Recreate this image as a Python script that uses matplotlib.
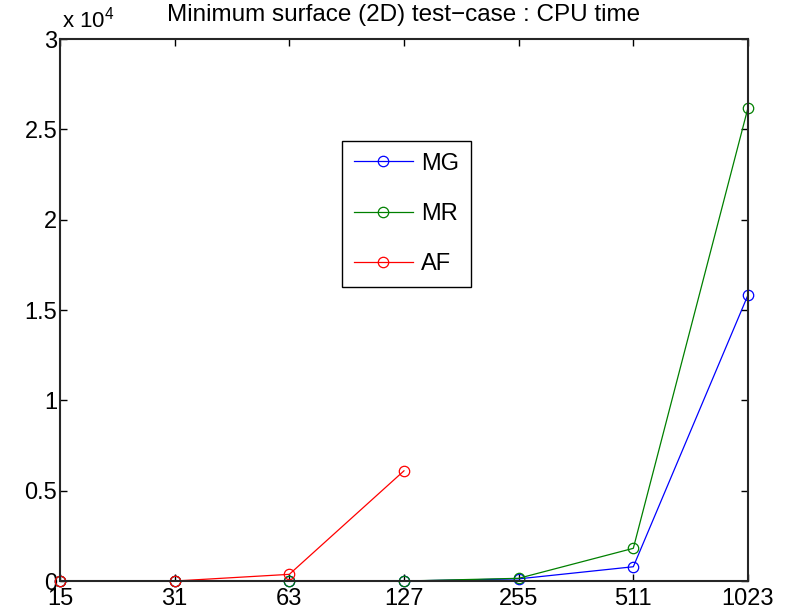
import matplotlib
matplotlib.use('Agg')
import matplotlib.pyplot as plt
from matplotlib.ticker import FuncFormatter

plt.rcParams['font.family'] = ['Liberation Sans', 'DejaVu Sans']
plt.rcParams['mathtext.default'] = 'regular'

# grid sizes (equally spaced categories)
tailles = ['15', '31', '63', '127', '255', '511', '1023']

# CPU time per method
temps_mg = [0, 0, 0, 0, 120, 790, 15830]
temps_mr = [0, 0, 0, 0, 150, 1810, 26190]
temps_af = [0, 0, 370, 6100]

yticks = [0, 5000, 10000, 15000, 20000, 25000, 30000]

fig = plt.figure(figsize=(7.9, 6.1), dpi=100)
ax = fig.add_axes([0.0759, 0.0475, 0.8709, 0.8885])

pos = list(range(1, len(tailles) + 1))
ax.plot(pos, temps_mg, color=(0, 0, 1), marker='o', mfc='none', ms=7.5, lw=0.9,
        mew=0.9, label='MG', clip_on=False)
ax.plot(pos, temps_mr, color=(0, 0.5, 0), marker='o', mfc='none', ms=7.5, lw=0.9,
        mew=0.9, label='MR', clip_on=False)
ax.plot(pos[:len(temps_af)], temps_af, color=(1, 0, 0), marker='o', mfc='none',
        ms=7.5, lw=0.9, mew=0.9, label='AF', clip_on=False)

ax.set_xlim(1, 7)
ax.set_ylim(0, 30000)
ax.set_xticks(pos)
ax.set_xticklabels(tailles)
ax.set_yticks(yticks)
ax.yaxis.set_major_formatter(FuncFormatter(lambda v, p: f'{v/1e4:g}'))
ax.tick_params(direction='in', top=True, right=True, length=5, width=1,
               labelsize=17, pad=2)
ax.tick_params(axis='x', pad=5)

for s in ax.spines.values():
    s.set_linewidth(1.5)
    s.set_color('#262626')

ax.text(0.003, 1.012, r'x 10$^{4}$', transform=ax.transAxes, fontsize=16,
        ha='left', va='bottom')
ax.set_title('Minimum surface (2D) test\u2212case : CPU time', fontsize=17.5, pad=13)

leg = ax.legend(loc='upper left', bbox_to_anchor=(0.41, 0.812), borderaxespad=0,
                fontsize=17, labelspacing=1.2, handlelength=2.5,
                handletextpad=0.35, borderpad=0.5, fancybox=False,
                framealpha=1, edgecolor='black')
leg.get_frame().set_linewidth(1.0)

fig.savefig('out.png', dpi=100)
